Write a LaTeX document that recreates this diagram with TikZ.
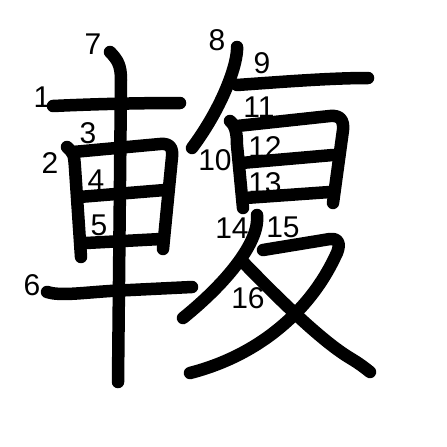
\documentclass[tikz,border=0pt]{standalone}
\usepackage{fontspec}
\setmainfont{Liberation Sans}
\usepackage{xcolor}
\usetikzlibrary{positioning}

\begin{document}
\begin{tikzpicture}[x=1pt,y=-1pt,
  kstroke/.style={line width=12.5pt,line cap=round,line join=round},
  num/.style={font=\fontsize{30}{30}\selectfont,inner sep=0pt}]
  \useasboundingbox[fill=white] (0,0) rectangle (447,447);
  % left part (car)
  \draw[kstroke] (53,106) .. controls (95,104) and (140,103) .. (180,103);
  \draw[kstroke] (67,147) .. controls (74,154) .. (75,168) -- (81,257);
  \draw[kstroke] (73,152) -- (160,144) .. controls (170,143) and (173,148) .. (172,157) -- (163,249);
  \draw[kstroke] (79,197) -- (165,190);
  \draw[kstroke] (86,243) -- (161,239);
  \draw[kstroke] (47,292) .. controls (60,296) and (80,293) .. (110,291) -- (192,287);
  \draw[kstroke] (110,52) .. controls (118,60) and (121,66) .. (121,80) -- (118,382);
  % right part
  \draw[kstroke] (237,47) .. controls (238,62) and (224,105) .. (192,148);
  \draw[kstroke] (237,85) .. controls (280,82) and (330,78) .. (368,78);
  \draw[kstroke] (230,121) .. controls (236,126) and (237,135) .. (237,145) -- (243,208);
  \draw[kstroke] (237,126) -- (330,116) .. controls (340,115) and (344,120) .. (343,130) -- (333,203);
  \draw[kstroke] (241,163) -- (333,155);
  \draw[kstroke] (245,198) -- (330,192);
  \draw[kstroke] (257,215) .. controls (260,240) and (230,280) .. (183,318);
  \draw[kstroke] (263,250) -- (330,239) .. controls (340,238) and (341,246) .. (335,257)
    .. controls (310,310) and (260,355) .. (190,373);
  \draw[kstroke] (243,262) .. controls (275,295) and (320,340) .. (350,358)
    .. controls (360,364) and (365,368) .. (370,372);
  % stroke numbers
  \node[num] (n1) at (42,97) {1};
  \node[num] (n2) at (50,163) {2};
  \node[num] (n3) at (88,133) {3};
  \node[num] (n4) at (96,180) {4};
  \node[num] (n5) at (99,225) {5};
  \node[num] (n6) at (32,285) {6};
  \node[num] (n7) at (93,44) {7};
  \node[num] (n8) at (217,40) {8};
  \node[num] (n9) at (262,63) {9};
  \node[num] (n10) at (215,160) {10};
  \node[num] (n11) at (259,107) {11};
  \node[num] (n12) at (265,147) {12};
  \node[num] (n13) at (265,183) {13};
  \node[num] (n14) at (232,228) {14};
  \node[num] (n15) at (283,227) {15};
  \node[num] (n16) at (248,298) {16};
\end{tikzpicture}
\end{document}
